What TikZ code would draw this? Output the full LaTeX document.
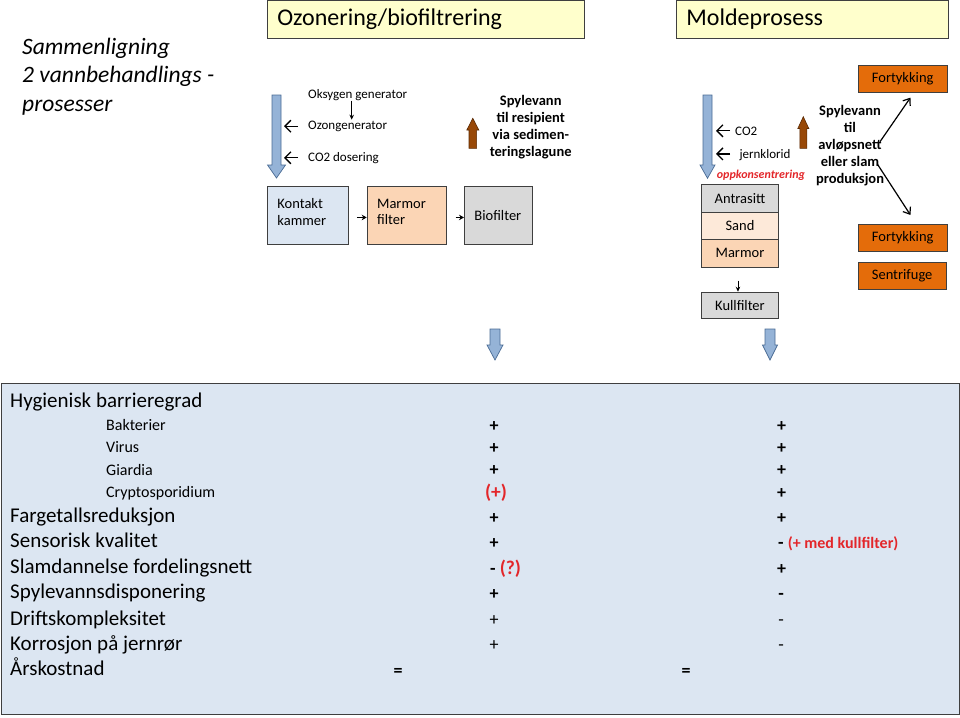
\documentclass[tikz,border=0pt]{standalone}
\usepackage{fontspec}
\setmainfont{Carlito}
\usetikzlibrary{arrows.meta}
\definecolor{boxline}{HTML}{3F3F3F}
\definecolor{ltblue}{HTML}{DCE6F2}
\definecolor{peach}{HTML}{FBD5B5}
\definecolor{ltpeach}{HTML}{FDE9D9}
\definecolor{ltgrey}{HTML}{D9D9D9}
\definecolor{ltyellow}{HTML}{FFFFCC}
\definecolor{orng}{HTML}{E46C0A}
\definecolor{redtxt}{HTML}{E3262A}
\definecolor{arrblue}{HTML}{95B3D7}
\definecolor{arrblueline}{HTML}{4A6B94}
\definecolor{arrbrown}{HTML}{984807}
\definecolor{arrbrownline}{HTML}{5A2A04}
\newcommand\fsz[2]{\fontsize{#1}{#2}\selectfont}
% #1 style, #2 x centre, #3 shaft end y, #4 head base y, #5 tip y, #6 half shaft, #7 half head
\newcommand\fatarrow[7]{\filldraw[#1] (#2-#6,#3) -- (#2+#6,#3) -- (#2+#6,#4) -- (#2+#7,#4) -- (#2,#5) -- (#2-#7,#4) -- (#2-#6,#4) -- cycle;}
\begin{document}
\begin{tikzpicture}[x=1pt,y=-1pt,
  box/.style={draw=boxline, line width=0.9pt, inner sep=0pt, text=black},
  lbox/.style={box, align=left, anchor=north west, inner xsep=10pt},
  cbox/.style={box, align=center, anchor=north west, font=\fsz{14.5}{17}},
  txt/.style={inner sep=0pt, anchor=base west, text=black},
  big/.style={txt, font=\fsz{21}{21}},
  small/.style={txt, font=\fsz{16}{16}},
  sgn/.style={inner sep=0pt, anchor=base, font=\fsz{18}{18}\bfseries},
  sgnl/.style={inner sep=0pt, anchor=base, font=\fsz{18}{18}},
  lab/.style={txt, font=\fsz{13}{13}},
  blue/.style={fill=arrblue, draw=arrblueline, line width=0.7pt},
  brown/.style={fill=arrbrown, draw=arrbrownline, line width=0.6pt},
  conn/.style={-{Stealth[length=5pt,width=5.5pt]}, line width=1.1pt},
  barb/.style={-{Straight Barb[length=6pt,width=12pt]}, line width=1.3pt},
  lbarb/.style={-{Straight Barb[length=6pt,width=9pt]}, line width=1.2pt}
]
\useasboundingbox (0,0) rectangle (960,717);

% title
\node[inner sep=0pt, anchor=north west, align=left, font=\fsz{23.5}{28.5}\itshape] (title) at (22,37.8)
  {Sammenligning\\2 vannbehandlings -\\prosesser};

% header boxes
\node[lbox, fill=ltyellow, minimum height=38pt, text width=297pt, font=\fsz{24}{24}] (ozh) at (267,0) {Ozonering/biofiltrering};
\node[lbox, fill=ltyellow, minimum height=38pt, text width=252pt, font=\fsz{24}{24}] (mph) at (676,0) {Moldeprosess};

% ---- Ozonering / biofiltrering ----
\fatarrow{blue}{276.5}{95}{165}{178}{4.5}{9}
\node[lab] (oks) at (308,98.3) {Oksygen generator};
\node[lab] (ozon) at (308,129.3) {Ozongenerator};
\node[lab] (co2a) at (308,161.7) {CO2 dosering};
\coordinate (ax) at (351.7,0);
\draw[-{Stealth[length=5pt,width=4.5pt]}, line width=0.8pt] (oks.south -| ax) -- ([yshift=1pt]ozon.north -| ax);
\draw[barb] ([xshift=-10pt]ozon.west) -- ([xshift=-24pt]ozon.west);
\draw[barb] ([xshift=-10pt,yshift=0.5pt]co2a.west) -- ([xshift=-24pt,yshift=0.5pt]co2a.west);

\node[lbox, fill=ltblue, minimum height=58pt, text width=61pt, font=\fsz{14.5}{16.7}] (kont) at (267,186) {Kontakt\\kammer\rule[-7pt]{0pt}{7pt}};
\node[lbox, fill=peach, minimum height=58pt, text width=59pt, font=\fsz{14.5}{16.7}] (marm) at (366.7,186) {Marmor\\filter\rule[-7pt]{0pt}{7pt}};
\node[lbox, fill=ltgrey, minimum height=58pt, text width=48.3pt, font=\fsz{14.5}{16.7}] (bio) at (464,186) {Biofilter};
\draw[conn] ([xshift=8pt,yshift=-2pt]kont.east) -- ([yshift=-2pt]marm.west);
\draw[conn] ([xshift=9pt,yshift=-2pt]marm.east) -- ([yshift=-2pt]bio.west);

\fatarrow{brown}{472.8}{148.3}{130}{118.3}{3.8}{6}
\node[inner sep=0pt, align=center, font=\fsz{14.5}{16.8}\bfseries] (spyl1) at (530.7,127.3)
  {Spylevann\\til resipient\\via sedimen-\\teringslagune};

\fatarrow{blue}{495}{329}{345}{360}{5}{8}

% ---- Moldeprosess ----
\fatarrow{blue}{707.5}{95}{165}{178.3}{4.5}{7.5}
\node[lab] (co2b) at (735,135) {CO2};
\node[lab] (jern) at (739.3,158.3) {jernklorid};
\draw[barb] ([xshift=-5pt]co2b.west) -- ([xshift=-19pt]co2b.west);
\draw[barb] ([xshift=-9.3pt,yshift=1pt]jern.west) -- ([xshift=-23.3pt,yshift=1pt]jern.west);
\node[txt, font=\fsz{12}{12}\bfseries\itshape, text=redtxt] (oppk) at (716.7,178.3) {oppkonsentrering};
\fatarrow{brown}{803.3}{148.3}{128.5}{116.7}{3.5}{5.5}

\node[cbox, fill=ltgrey, minimum width=77.6pt, minimum height=27.7pt] (antr) at (700.7,184) {Antrasitt};
\node[cbox, fill=ltpeach, minimum width=77.6pt, minimum height=27.3pt] (sand) at (700.7,211.7) {Sand};
\node[cbox, fill=peach, minimum width=77.6pt, minimum height=27.7pt] (marm2) at (700.7,239) {Marmor};
\node[cbox, fill=ltgrey, minimum width=77.6pt, minimum height=26.6pt] (kull) at (700.7,291.7) {Kullfilter};
\draw[-{Stealth[length=5pt,width=4.5pt]}, line width=0.8pt] ([xshift=-2pt,yshift=-13pt]marm2.south) -- ([xshift=-2pt]kull.north);
\fatarrow{blue}{770}{329}{345}{360}{5}{7.5}

\node[inner sep=0pt, align=center, font=\fsz{14.5}{17}\bfseries] (spyl2) at (850,145.5)
  {Spylevann\\til\\avløpsnett\\eller slam\\produksjon};

\node[cbox, fill=orng, minimum width=89pt, minimum height=27.3pt] (fort1) at (857.7,65) {Fortykking};
\node[cbox, fill=orng, minimum width=89pt, minimum height=26.7pt] (fort2) at (857.7,224) {Fortykking};
\node[cbox, fill=orng, minimum width=88pt, minimum height=27.6pt] (sent) at (857.7,261.7) {Sentrifuge};
\coordinate (sa) at (880,141.7);
\coordinate (sb) at (877.3,164);
\draw[lbarb] (sa) -- ([xshift=7.8pt,yshift=-4.4pt]fort1.south);
\draw[lbarb] (sb) -- ([xshift=7.8pt,yshift=9pt]fort2.north);

% ---- comparison table ----
\node[draw=boxline, line width=1pt, fill=ltblue, inner sep=0pt, minimum width=957.5pt, minimum height=331pt, anchor=north west] (tab) at (1,383) {};

\node[big] (r0) at (10,407) {Hygienisk barrieregrad};
\node[small] (r1) at (106,430.7) {Bakterier};
\node[small] (r2) at (106,452.7) {Virus};
\node[small] (r3) at (106,475) {Giardia};
\node[small] (r4) at (106,497.3) {Cryptosporidium};
\node[big] (r5) at (10,522.7) {Fargetallsreduksjon};
\node[big] (r6) at (10,547.7) {Sensorisk kvalitet};
\node[big] (r7) at (10,573.3) {Slamdannelse fordelingsnett};
\node[big] (r8) at (10,598.3) {Spylevannsdisponering};
\node[big] (r9) at (10,625) {Driftskompleksitet};
\node[big] (r10) at (10,650) {Korrosjon på jernrør};
\node[big] (r11) at (10,675.7) {Årskostnad};

% column 1
\node[sgn] (a1) at (494,431.5) {+};
\node[sgn] (a2) at (494,453.5) {+};
\node[sgn] (a3) at (494,475.8) {+};
\node[sgn, font=\fsz{19.5}{19.5}\bfseries, text=redtxt] (a4) at (496,498.5) {(+)};
\node[sgn] (a5) at (494,523.5) {+};
\node[sgn] (a6) at (494,548.5) {+};
\node[txt, font=\fsz{18}{18}\bfseries] (a7) at (490,574) {- {\fsz{19.5}{19.5}\color{redtxt}(?)}};
\node[sgn] (a8) at (494,599) {+};
\node[sgnl] (a9) at (494,625.5) {+};
\node[sgnl] (a10) at (494,650.5) {+};
\node[sgn] (a11) at (398,676) {=};

% column 2
\node[sgn] (b1) at (781.5,431.5) {+};
\node[sgn] (b2) at (781.5,453.5) {+};
\node[sgn] (b3) at (781.5,475.8) {+};
\node[sgn] (b4) at (781.5,498) {+};
\node[sgn] (b5) at (781.5,523.5) {+};
\node[txt, font=\fsz{18}{18}\bfseries] (b6) at (778,548.5) {- {\fsz{16}{16}\color{redtxt}(+ med kullfilter)}};
\node[sgn] (b7) at (781.5,574) {+};
\node[sgn] (b8) at (781,599) {-};
\node[sgnl] (b9) at (781,625.5) {-};
\node[sgnl] (b10) at (781,650.5) {-};
\node[sgn] (b11) at (686,676) {=};
\end{tikzpicture}
\end{document}
